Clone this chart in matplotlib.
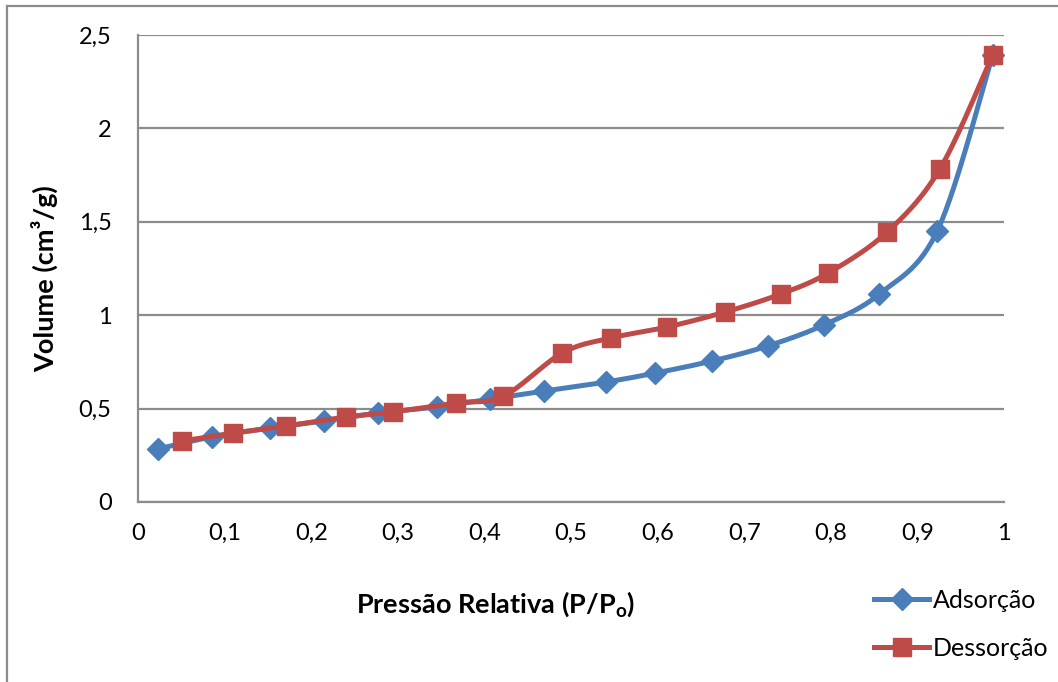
import numpy as np
import matplotlib
matplotlib.use("Agg")
import matplotlib.pyplot as plt
from matplotlib.lines import Line2D

plt.rcParams['font.family'] = ['Lato', 'DejaVu Sans']
plt.rcParams['mathtext.fontset'] = 'custom'
plt.rcParams['mathtext.bf'] = 'Lato:bold'
plt.rcParams['mathtext.rm'] = 'Lato'

# Isotherm data: relative pressure vs adsorbed volume
p_ads = [0.023, 0.085, 0.153, 0.215, 0.277, 0.345, 0.407, 0.469, 0.540,
         0.597, 0.663, 0.727, 0.792, 0.856, 0.923, 0.987]
v_ads = [0.284, 0.348, 0.396, 0.434, 0.476, 0.509, 0.551, 0.594, 0.642,
         0.690, 0.755, 0.835, 0.948, 1.113, 1.451, 2.393]

p_des = [0.051, 0.110, 0.171, 0.240, 0.294, 0.367, 0.422, 0.490, 0.546,
         0.611, 0.678, 0.742, 0.797, 0.865, 0.926, 0.987]
v_des = [0.327, 0.369, 0.407, 0.455, 0.482, 0.530, 0.567, 0.798, 0.878,
         0.937, 1.017, 1.113, 1.226, 1.445, 1.783, 2.393]

x_ticks = [0, 0.1, 0.2, 0.3, 0.4, 0.5, 0.6, 0.7, 0.8, 0.9, 1.0]
x_labels = ["0", "0,1", "0,2", "0,3", "0,4", "0,5", "0,6", "0,7", "0,8", "0,9", "1"]
y_ticks = [0, 0.5, 1.0, 1.5, 2.0, 2.5]
y_labels = ["0", "0,5", "1", "1,5", "2", "2,5"]

BLUE = "#4A7EBB"
RED = "#BE4B48"
GRID = "#8C8C8C"


def smooth(x, y, n=30):
    """Catmull-Rom spline through the points (smoothed line style)."""
    x = np.asarray(x, float)
    y = np.asarray(y, float)
    px = np.concatenate([[x[0]], x, [x[-1]]])
    py = np.concatenate([[y[0]], y, [y[-1]]])
    xs, ys = [], []
    t = np.linspace(0, 1, n)
    for i in range(1, len(px) - 2):
        p0, p1, p2, p3 = (np.array([px[j], py[j]]) for j in (i - 1, i, i + 1, i + 2))
        c1 = p1 + (p2 - p0) / 6.0
        c2 = p2 - (p3 - p1) / 6.0
        b = ((1 - t) ** 3)[:, None] * p1 + (3 * (1 - t) ** 2 * t)[:, None] * c1 \
            + (3 * (1 - t) * t ** 2)[:, None] * c2 + (t ** 3)[:, None] * p2
        xs.append(b[:, 0])
        ys.append(b[:, 1])
    return np.concatenate(xs), np.concatenate(ys)


W, H = 1058, 682
fig = plt.figure(figsize=(W / 100, H / 100), dpi=100)
ax = fig.add_axes([138 / W, 180 / H, 866 / W, 467 / H])

sx, sy = smooth(p_ads, v_ads)
ax.plot(sx, sy, color=BLUE, lw=3.6, solid_capstyle='round', zorder=3)
ax.plot(p_ads, v_ads, linestyle='none', marker='D', ms=11, color=BLUE,
        markeredgecolor=BLUE, zorder=4)

sx, sy = smooth(p_des, v_des)
ax.plot(sx, sy, color=RED, lw=3.6, solid_capstyle='round', zorder=5)
ax.plot(p_des, v_des, linestyle='none', marker='s', ms=13.5, color=RED,
        markeredgecolor=RED, zorder=6)

ax.set_xlim(0, 1)
ax.set_ylim(0, 2.5)
ax.set_xticks(x_ticks)
ax.set_xticklabels(x_labels)
ax.set_yticks(y_ticks)
ax.set_yticklabels(y_labels)
ax.tick_params(length=0, labelsize=17, colors='black')
ax.tick_params(axis='x', pad=15)
ax.tick_params(axis='y', pad=19)
ax.grid(axis='y', color=GRID, lw=1.6)
ax.set_axisbelow(True)
for side in ('top', 'right'):
    ax.spines[side].set_visible(False)
for side in ('left', 'bottom'):
    ax.spines[side].set_color(GRID)
    ax.spines[side].set_linewidth(1.6)

fig.text(45 / W, 1 - 279 / H, "Volume (cm³/g)", rotation=90,
         fontsize=19.5, fontweight='bold', ha='center', va='center')
fig.text(496 / W, 1 - 604 / H, r"Pressão Relativa (P/P$_\mathbf{o}$)",
         fontsize=19.5, fontweight='bold', ha='center', va='center')

handles = [
    Line2D([], [], color=BLUE, lw=3.6, marker='D', ms=11, markeredgecolor=BLUE),
    Line2D([], [], color=RED, lw=3.6, marker='s', ms=13, markeredgecolor=RED),
]
fig.legend(handles, ["Adsorção", "Dessorção"], loc='center left',
           bbox_to_anchor=(874 / W, 1 - 624 / H), frameon=False,
           fontsize=18, handlelength=2.2, handletextpad=0.15, labelspacing=1.0,
           borderaxespad=0, borderpad=0)

# Chart frame
fig.add_artist(Line2D([7 / W, 1], [1 - 6 / H, 1 - 6 / H],
                      transform=fig.transFigure, color=GRID, lw=1.6))
fig.add_artist(Line2D([7 / W, 7 / W], [0, 1 - 6 / H],
                      transform=fig.transFigure, color=GRID, lw=1.6))

fig.savefig("out.png", dpi=100, facecolor='white')
